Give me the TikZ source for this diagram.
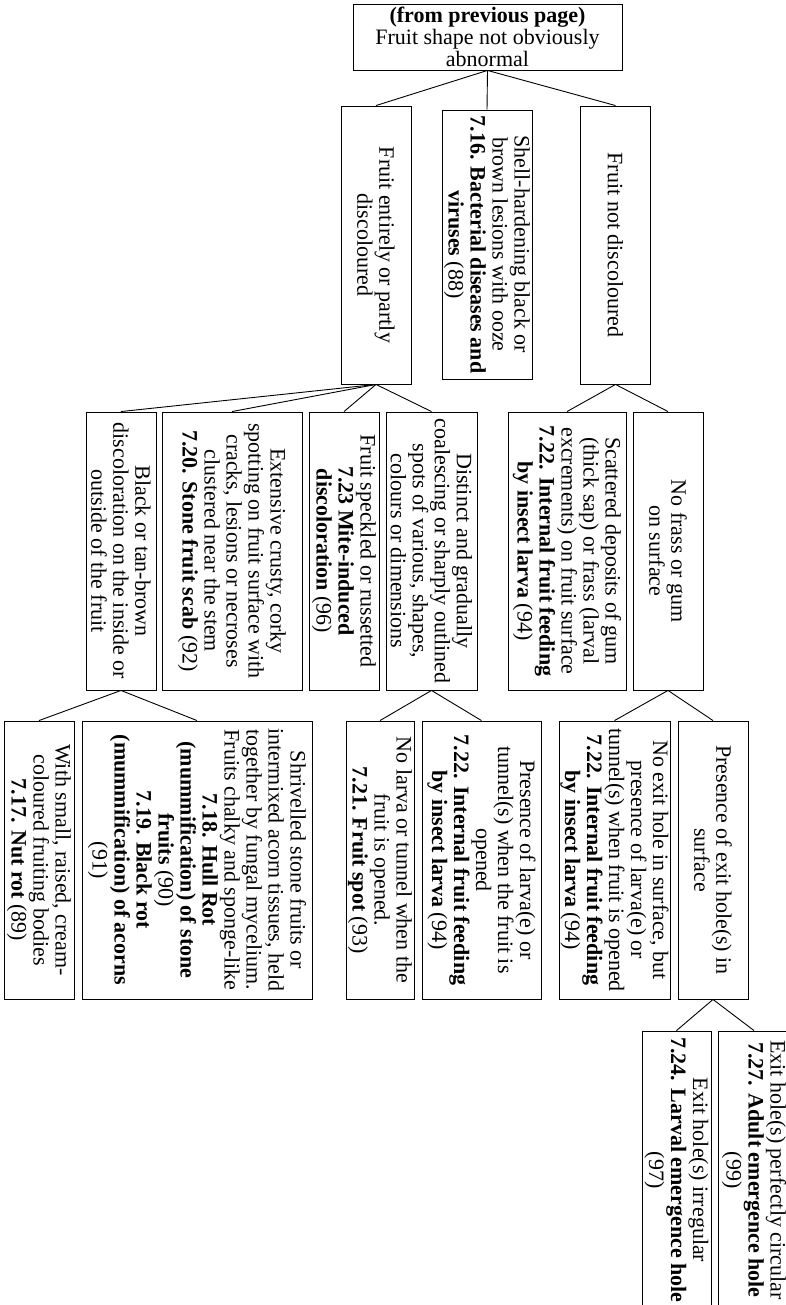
\documentclass[tikz,border=0pt]{standalone}
\usepackage{fontspec}
\setmainfont{Liberation Serif}

\begin{document}
\begin{tikzpicture}[x=1pt, y=-1pt, line width=0.9pt,
  font=\fontsize{22}{22}\selectfont,
  headbox/.style={draw, align=center, inner sep=0pt, minimum width=269, minimum height=66},
  keybox/.style={draw, rotate=-90, align=center, inner sep=0pt, minimum width=278}]
\useasboundingbox (0,0) rectangle (786,1305);
\clip (0,0) rectangle (786,1305);
% root
\node[headbox] (root) at (487.5,37)
  {\textbf{(from previous page)}\\Fruit shape not obviously\\abnormal};
% level 1 : colour of the fruit
\node[keybox, minimum height=70] (disc) at (376,245)
  {Fruit entirely or partly\\discoloured};
\node[keybox, minimum height=90, minimum width=269] (shell) at (487,244.5)
  {Shell-hardening black or\\brown lesions with ooze\\\textbf{7.16. Bacterial diseases and}\\\textbf{viruses} (88)};
\node[keybox, minimum height=70] (nodisc) at (615.5,245)
  {Fruit not discoloured};
% level 2 : discoloured side
\node[keybox, minimum height=70] (black) at (121,551)
  {Black or tan-brown\\discoloration on the inside or\\outside of the fruit};
\node[keybox, minimum height=140] (scab) at (232,551)
  {Extensive crusty, corky\\spotting on fruit surface with\\cracks, lesions or necroses\\clustered near the stem\\\textbf{7.20. Stone fruit scab} (92)};
\node[keybox, minimum height=70] (mite) at (344,551)
  {Fruit speckled or russetted\\\textbf{7.23 Mite-induced}\\\textbf{discoloration} (96)};
\node[keybox, minimum height=91] (spots) at (431.5,551)
  {Distinct and gradually\\coalescing or sharply outlined\\spots of various, shapes,\\colours or dimensions};
% level 2 : not discoloured side
\node[keybox, minimum height=118] (frass) at (567,551)
  {Scattered deposits of gum\\(thick sap) or frass (larval\\excrements) on fruit surface\\\textbf{7.22. Internal fruit feeding}\\\textbf{by insect larva} (94)};
\node[keybox, minimum height=70] (nofrass) at (668,551)
  {No frass or gum\\on surface};
% level 3
\node[keybox, minimum height=70] (nutrot) at (39,860)
  {With small, raised, cream-\\coloured fruiting bodies\\\textbf{7.17. Nut rot} (89)};
\node[keybox, minimum height=230] (hullrot) at (197,860)
  {Shrivelled stone fruits or\\intermixed acorn tissues, held\\together by fungal mycelium.\\Fruits chalky and sponge-like\\\textbf{7.18. Hull Rot}\\\textbf{(mummification) of stone}\\\textbf{fruits} (90)\\\textbf{7.19. Black rot}\\\textbf{(mummification) of acorns}\\(91)};
\node[keybox, minimum height=68] (spot) at (380,860)
  {No larva or tunnel when the\\fruit is opened.\\\textbf{7.21. Fruit spot} (93)};
\node[keybox, minimum height=119] (larva) at (481.5,860)
  {Presence of larva(e) or\\tunnel(s) when the fruit is\\opened\\\textbf{7.22. Internal fruit feeding}\\\textbf{by insect larva} (94)};
\node[keybox, minimum height=111] (noexit) at (614.5,860)
  {No exit hole in surface, but\\presence of larva(e) or\\tunnel(s) when fruit is opened\\\textbf{7.22. Internal fruit feeding}\\\textbf{by insect larva} (94)};
\node[keybox, minimum height=70] (exit) at (713,860)
  {Presence of exit hole(s) in\\surface};
% level 4 : runs off the page
\node[keybox, minimum height=69] (larval) at (676.5,1170)
  {Exit hole(s) irregular\\\textbf{7.24. Larval emergence hole}\\(97)};
\node[keybox, minimum height=72] (adult) at (754,1170)
  {Exit hole(s) perfectly circular\\\textbf{7.27. Adult emergence hole}\\(99)};
% connectors
\draw (root.south) -- (disc.west);
\draw (root.south) -- (shell.west);
\draw (root.south) -- (nodisc.west);
\draw (disc.east) -- (black.west);
\draw (disc.east) -- (scab.west);
\draw (disc.east) -- (mite.west);
\draw (disc.east) -- (spots.west);
\draw (nodisc.east) -- (frass.west);
\draw (nodisc.east) -- (nofrass.west);
\draw (black.east) -- (nutrot.west);
\draw (black.east) -- (hullrot.west);
\draw (spots.east) -- (spot.west);
\draw (spots.east) -- (larva.west);
\draw (nofrass.east) -- (noexit.west);
\draw (nofrass.east) -- (exit.west);
\draw (exit.east) -- (larval.west);
\draw (exit.east) -- (adult.west);
\end{tikzpicture}
\end{document}
